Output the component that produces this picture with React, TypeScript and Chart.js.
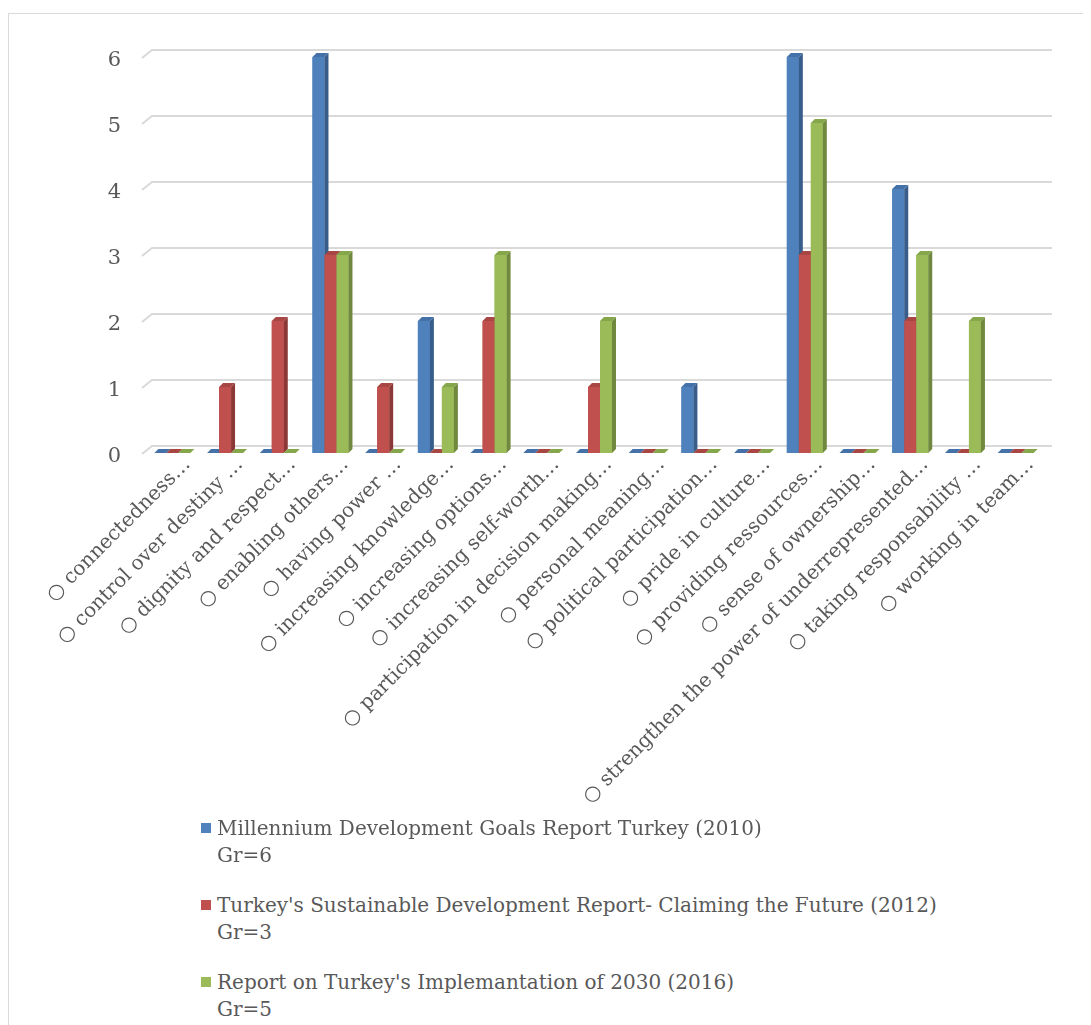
import React, { useEffect, useRef } from "react";
import { Chart, registerables } from "chart.js";

Chart.register(...registerables);

// ---------- data ----------
const categories = [
  "○ connectedness…",
  "○ control over destiny …",
  "○ dignity and respect…",
  "○ enabling others…",
  "○ having power …",
  "○ increasing knowledge…",
  "○ increasing options…",
  "○ increasing self-worth…",
  "○ participation in decision making…",
  "○ personal meaning…",
  "○ political participation…",
  "○ pride in culture…",
  "○ providing ressources…",
  "○ sense of ownership…",
  "○ strengthen the power of underrepresented…",
  "○ taking responsability …",
  "○ working in team…",
];

const seriesNames = [
  "Millennium Development Goals Report Turkey (2010)",
  "Turkey's Sustainable Development Report- Claiming the Future (2012)",
  "Report on Turkey's Implemantation of 2030 (2016)",
];
const seriesGr = ["Gr=6", "Gr=3", "Gr=5"];

const mdg2010 = [0, 0, 0, 6, 0, 2, 0, 0, 0, 0, 1, 0, 6, 0, 4, 0, 0];
const sdr2012 = [0, 1, 2, 3, 1, 0, 2, 0, 1, 0, 0, 0, 3, 0, 2, 0, 0];
const impl2016 = [0, 0, 0, 3, 0, 1, 3, 0, 2, 0, 0, 0, 5, 0, 3, 2, 0];

const yTicks = [0, 1, 2, 3, 4, 5, 6];

// ---------- styles ----------
const FRONT = ["#4F81BD", "#C0504D", "#9BBB59"];
const SIDE = ["#385D8A", "#8C3836", "#71893F"];
const TOP = ["#4472A8", "#A84644", "#86A64B"];
const TEXT = "#595959";
const FONT = "'DejaVu Serif', serif";
const CANVAS_W = 1082;
const CANVAS_H = 840;
const PLOT_BOTTOM = 439;

const threeD = {
  id: "threeD",
  beforeDatasetsDraw(chart: any) {
    const { ctx, chartArea, scales } = chart;
    const y = scales.y;
    ctx.save();
    ctx.strokeStyle = "#D9D9D9";
    ctx.lineWidth = 2;
    for (const v of yTicks) {
      const py = y.getPixelForValue(v);
      ctx.beginPath();
      ctx.moveTo(chartArea.left - 4, py + 1);
      ctx.lineTo(chartArea.left + 6, py - 7);
      ctx.lineTo(chartArea.right + 10, py - 7);
      ctx.stroke();
    }
    ctx.restore();
  },
  afterDatasetsDraw(chart: any) {
    const ctx = chart.ctx;
    const d = 4;
    const dy = 4;
    ctx.save();
    chart.data.datasets.forEach((_ds: any, i: number) => {
      const meta = chart.getDatasetMeta(i);
      meta.data.forEach((bar: any) => {
        const { x, y, base, width } = bar.getProps(["x", "y", "base", "width"], true);
        const l = x - width / 2;
        const r = x + width / 2;
        ctx.fillStyle = FRONT[i];
        ctx.fillRect(l, y, width, base - y);
        ctx.fillStyle = SIDE[i];
        ctx.beginPath();
        ctx.moveTo(r, y);
        ctx.lineTo(r + d, y - dy);
        ctx.lineTo(r + d, base - dy);
        ctx.lineTo(r, base);
        ctx.closePath();
        ctx.fill();
        ctx.fillStyle = TOP[i];
        ctx.beginPath();
        ctx.moveTo(l, y);
        ctx.lineTo(l + d, y - dy);
        ctx.lineTo(r + d, y - dy);
        ctx.lineTo(r, y);
        ctx.closePath();
        ctx.fill();
      });
    });
    ctx.restore();
  },
};

export default function App() {
  const ref = useRef<HTMLCanvasElement | null>(null);

  useEffect(() => {
    if (!ref.current) return;
    const chart = new Chart(ref.current, {
      type: "bar",
      data: {
        labels: categories,
        datasets: [
          { label: seriesNames[0], data: mdg2010, backgroundColor: FRONT[0] },
          { label: seriesNames[1], data: sdr2012, backgroundColor: FRONT[1] },
          { label: seriesNames[2], data: impl2016, backgroundColor: FRONT[2] },
        ],
      },
      options: {
        responsive: false,
        animation: false,
        datasets: { bar: { categoryPercentage: 0.683, barPercentage: 1 } },
        layout: { padding: { left: 0, right: 49, top: 43, bottom: 0 } },
        plugins: { legend: { display: false }, tooltip: { enabled: false } },
        scales: {
          x: {
            grid: { display: false, drawTicks: false },
            border: { display: false },
            ticks: {
              autoSkip: false,
              maxRotation: 45,
              minRotation: 45,
              color: TEXT,
              font: { family: FONT, size: 20 },
              padding: 0,
              labelOffset: 15,
            },
            afterFit: (s: any) => {
              s.height = CANVAS_H - PLOT_BOTTOM;
            },
          },
          y: {
            min: 0,
            max: 6,
            grid: { display: false, drawTicks: false },
            border: { display: false },
            ticks: {
              stepSize: 1,
              color: TEXT,
              font: { family: FONT, size: 21 },
              padding: 25,
              labelOffset: 4,
            },
            afterFit: (s: any) => {
              s.width = 137;
            },
          },
        },
      },
      plugins: [threeD],
    } as any);
    return () => chart.destroy();
  }, []);

  return (
    <div
      style={{
        position: "relative",
        marginTop: 5,
        width: CANVAS_W,
        height: 1100,
        borderTop: "1px solid #D9D9D9",
        borderLeft: "1px solid #D9D9D9",
        background: "#fff",
      }}
    >
      <style>{"html,body{overflow:hidden}"}</style>
      <canvas
        ref={ref}
        width={CANVAS_W}
        height={CANVAS_H}
        style={{ display: "block", position: "absolute", left: 0, top: 0 }}
      />
      {seriesNames.map((name, i) => (
        <div
          key={name}
          style={{
            position: "absolute",
            left: 192,
            top: 801 + i * 77,
            fontFamily: FONT,
            fontSize: 20,
            lineHeight: "27px",
            color: TEXT,
            whiteSpace: "nowrap",
          }}
        >
          <span
            style={{
              position: "absolute",
              left: 0,
              top: 8,
              width: 10,
              height: 10,
              background: FRONT[i],
            }}
          />
          <div style={{ marginLeft: 16 }}>{name}</div>
          <div style={{ marginLeft: 16 }}>{seriesGr[i]}</div>
        </div>
      ))}
    </div>
  );
}
